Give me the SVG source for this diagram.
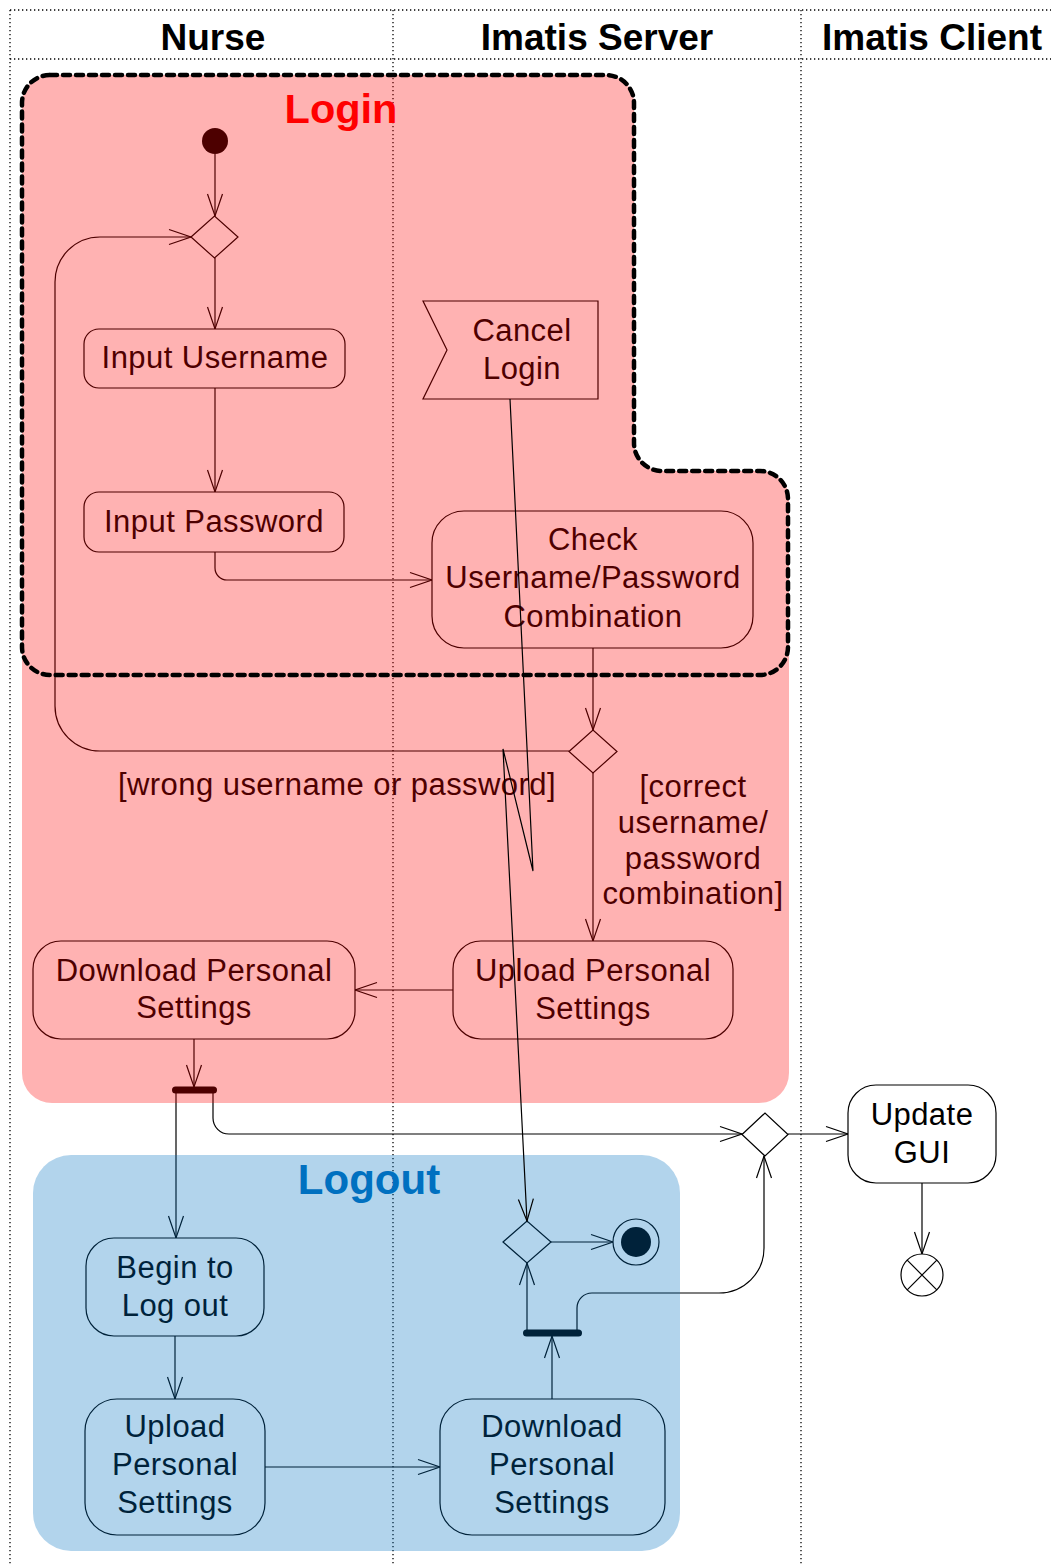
<svg xmlns="http://www.w3.org/2000/svg" width="1051" height="1565" viewBox="0 0 1051 1565">
<style>
text{font-family:"Liberation Sans",Arial,sans-serif;}
.t{font-size:31px;fill:#000;text-anchor:middle;letter-spacing:0.45px;}
.h{font-size:37px;font-weight:bold;fill:#000;text-anchor:middle;}
.lane{stroke:#000;stroke-width:1.3;stroke-dasharray:1.3,2.7;fill:none;}
.node{fill:#fff;stroke:#000;stroke-width:1.2;}
.e{fill:none;stroke:#000;stroke-width:1.2;marker-end:url(#arr);}
.bar{stroke:#000;stroke-width:7;stroke-linecap:round;}
</style>
<defs>
<marker id="arr" markerUnits="userSpaceOnUse" markerWidth="26" markerHeight="18" viewBox="0 0 26 18" refX="23" refY="9" orient="auto" overflow="visible">
<path d="M1,1.5 L23,9 L1,16.5" fill="none" stroke="#000" stroke-width="1.2"/>
</marker>
</defs>
<rect width="1051" height="1565" fill="#fff"/>
<g id="swimlanes">
<path class="lane" d="M10,10 H1051 M10,59 H1051 M10,10 V1565 M393,10 V1565 M801,10 V1565"/>
<text class="h" x="213" y="50">Nurse</text>
<text class="h" x="597" y="50">Imatis Server</text>
<text class="h" x="932" y="50">Imatis Client</text>
</g>
<g id="connectors">
<line class="e" x1="215" y1="154" x2="215" y2="216"/>
<line class="e" x1="215" y1="258" x2="215" y2="329"/>
<line class="e" x1="215" y1="388" x2="215" y2="492"/>
<path class="e" d="M215,552 V568 A12,12 0 0 0 227,580 H432"/>
<line class="e" x1="593" y1="648" x2="593" y2="730"/>
<path class="e" d="M569,751 H100 A45,45 0 0 1 55,706 V282 A45,45 0 0 1 100,237 H191"/>
<line class="e" x1="593" y1="773" x2="593" y2="941"/>
<line class="e" x1="453" y1="990" x2="355" y2="990"/>
<line class="e" x1="194" y1="1039" x2="194" y2="1087"/>
<line class="e" x1="176" y1="1090" x2="176" y2="1238"/>
<path class="e" d="M213,1090 V1118 A16,16 0 0 0 229,1134 H742"/>
<line class="e" x1="788" y1="1134" x2="848" y2="1134"/>
<line class="e" x1="922" y1="1183" x2="922" y2="1254"/>
<line class="e" x1="175" y1="1336" x2="175" y2="1399"/>
<line class="e" x1="265" y1="1467" x2="440" y2="1467"/>
<line class="e" x1="552" y1="1399" x2="552" y2="1336"/>
<line class="e" x1="527" y1="1333" x2="527" y2="1263"/>
<path class="e" d="M577,1333 V1308 A15,15 0 0 1 592,1293 H719 A45,45 0 0 0 764,1248 V1156"/>
<line class="e" x1="551" y1="1242" x2="613" y2="1242"/>
<text class="t" x="337" y="795">[wrong username or password]</text>
<text class="t" x="693" y="797">[correct</text>
<text class="t" x="693" y="833">username/</text>
<text class="t" x="693" y="869">password</text>
<text class="t" x="693" y="904">combination]</text>
</g>
<g id="start"><circle cx="215" cy="141" r="13" fill="#000"/></g>
<g id="merge1"><polygon class="node" points="191,237 214.5,216 238,237 214.5,258"/></g>
<g id="inputUsername"><rect class="node" x="84" y="329" width="261" height="59" rx="15"/><text class="t" x="215" y="368">Input Username</text></g>
<g id="inputPassword"><rect class="node" x="84" y="492" width="260" height="60" rx="15"/><text class="t" x="214" y="532">Input Password</text></g>
<g id="cancelLogin"><polygon class="node" points="423,301 598,301 598,399 423,399 447,350"/><text class="t" x="522" y="341">Cancel</text><text class="t" x="522" y="379">Login</text></g>
<g id="checkCombination"><rect class="node" x="432" y="511" width="321" height="137" rx="32"/><text class="t" x="593" y="550">Check</text><text class="t" x="593" y="588">Username/Password</text><text class="t" x="593" y="627">Combination</text></g>
<g id="decision2"><polygon class="node" points="569,751.5 593,730 617,751.5 593,773"/></g>
<g id="uploadLogin"><rect class="node" x="453" y="941" width="280" height="98" rx="28"/><text class="t" x="593" y="981">Upload Personal</text><text class="t" x="593" y="1019">Settings</text></g>
<g id="downloadLogin"><rect class="node" x="33" y="941" width="322" height="98" rx="28"/><text class="t" x="194" y="981">Download Personal</text><text class="t" x="194" y="1018">Settings</text></g>
<g id="fork1"><line class="bar" x1="175.5" y1="1090" x2="213.5" y2="1090"/></g>
<g id="merge3"><polygon class="node" points="742,1134.5 765,1113 788,1134.5 765,1156"/></g>
<g id="updateGUI"><rect class="node" x="848" y="1085" width="148" height="98" rx="28"/><text class="t" x="922" y="1125">Update</text><text class="t" x="922" y="1163">GUI</text></g>
<g id="flowFinal"><circle class="node" cx="922" cy="1275" r="21"/><path d="M907.2,1260.2 L936.8,1289.8 M936.8,1260.2 L907.2,1289.8" stroke="#000" stroke-width="1.2"/></g>
<g id="beginLogout"><rect class="node" x="86" y="1238" width="178" height="98" rx="28"/><text class="t" x="175" y="1278">Begin to</text><text class="t" x="175" y="1316">Log out</text></g>
<g id="uploadLogout"><rect class="node" x="85" y="1399" width="180" height="136" rx="32"/><text class="t" x="175" y="1437">Upload</text><text class="t" x="175" y="1475">Personal</text><text class="t" x="175" y="1513">Settings</text></g>
<g id="downloadLogout"><rect class="node" x="440" y="1399" width="225" height="136" rx="32"/><text class="t" x="552" y="1437">Download</text><text class="t" x="552" y="1475">Personal</text><text class="t" x="552" y="1513">Settings</text></g>
<g id="fork2"><line class="bar" x1="526.5" y1="1333" x2="578.5" y2="1333"/></g>
<g id="decision4"><polygon class="node" points="503,1242 527,1221 551,1242 527,1263"/></g>
<g id="activityFinal"><circle class="node" cx="636" cy="1242" r="23"/><circle cx="636" cy="1242" r="15" fill="#000"/></g>
<g id="loginRegion">
<path d="M50,75 H606 A28,28 0 0 1 634,103 V443 A28,28 0 0 0 662,471 H760 A28,28 0 0 1 789,500 V1073 A30,30 0 0 1 759,1103 H52 A30,30 0 0 1 22,1073 V103 A28,28 0 0 1 50,75 Z" fill="#FF0000" fill-opacity="0.3"/>
<path d="M50,75 H606 A28,28 0 0 1 634,103 V443 A28,28 0 0 0 662,471 H760 A28,28 0 0 1 788,499 V647 A28,28 0 0 1 760,675 H50 A28,28 0 0 1 22,647 V103 A28,28 0 0 1 50,75 Z" fill="none" stroke="#000" stroke-width="4.5" stroke-dasharray="7,6" stroke-linecap="round"/>
<text x="341" y="123" font-size="41.5" font-weight="bold" fill="#FF0000" text-anchor="middle">Login</text>
</g>
<g id="logoutRegion">
<rect x="33" y="1155" width="647" height="396" rx="38" fill="#0070C0" fill-opacity="0.3"/>
<text x="369" y="1194" font-size="42" font-weight="bold" fill="#0070C0" text-anchor="middle">Logout</text>
</g>
<g id="cancelConnector">
<polyline class="e" points="510,399 533,871 503,749 527,1221"/>
</g>
</svg>
